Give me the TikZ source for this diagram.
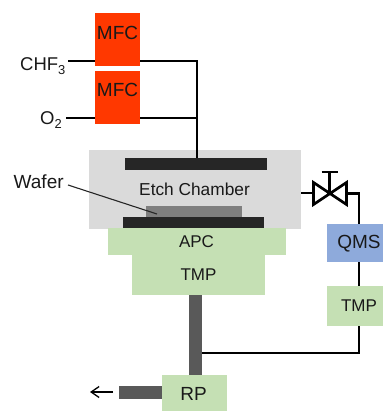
\documentclass[tikz,border=0pt]{standalone}
\usepackage{fontspec}
\usetikzlibrary{arrows.meta}
\setmainfont{Liberation Sans}
\definecolor{mfcred}{RGB}{255,56,0}
\definecolor{chambergray}{RGB}{218,218,218}
\definecolor{darkbar}{RGB}{38,38,38}
\definecolor{wafergray}{RGB}{127,127,127}
\definecolor{pumpgreen}{RGB}{197,224,180}
\definecolor{qmsblue}{RGB}{142,170,219}
\definecolor{pipegray}{RGB}{89,89,89}
\newcommand{\fs}[1]{\fontsize{#1}{#1}\selectfont}
\begin{document}
\begin{tikzpicture}[x=1pt,y=-1pt,
  gasline/.style={draw=black,line width=2.7pt},
  lab/.style={inner sep=0pt,text=black!90}]
\useasboundingbox (0,0) rectangle (383,411);
% fills
\fill[chambergray] (89,150) rectangle (301,229);
\fill[mfcred] (94.5,13) rectangle (140,66);
\fill[mfcred] (94.5,71) rectangle (140,124);
\fill[pumpgreen] (108,228) rectangle (286,255);
\fill[pumpgreen] (132,255) rectangle (265,295);
\fill[pumpgreen] (162,375) rectangle (227,411);
\fill[pumpgreen] (327,286) rectangle (383,326);
\fill[qmsblue] (327,224) rectangle (383,262);
\fill[darkbar] (125,158) rectangle (267,170);
\fill[wafergray] (146,206) rectangle (242,218);
\fill[darkbar] (123,217) rectangle (264,228);
\fill[pipegray] (189,295) rectangle (202,375);
\fill[pipegray] (119,386) rectangle (162,399);
% named anchors
\coordinate (chfin) at (68,61);
\coordinate (chfa) at (94.5,61);
\coordinate (chfb) at (140,61);
\coordinate (oin) at (66,118);
\coordinate (oa) at (94.5,118);
\coordinate (ob) at (140,118);
\coordinate (jo) at (197,118);
\coordinate (elec) at (197,158);
\coordinate (chout) at (301,193);
\coordinate (vl) at (313,193);
\coordinate (vr) at (347,193.5);
\coordinate (vc) at (329.5,193);
\coordinate (qmst) at (359,224);
\coordinate (qmsb) at (359,262);
\coordinate (tmpt) at (359,286);
\coordinate (tmpb) at (359,326);
\coordinate (pj) at (202,353);
% gas lines
\draw[gasline] (chfin) -- (chfa);
\draw[gasline] (chfb) -| (elec);
\draw[gasline] (oin) -- (oa);
\draw[gasline] (ob) -- (jo);
\draw[gasline] (chout) -- (vl);
\draw[gasline,line join=miter] (vr) -| (qmst);
\draw[gasline] (qmsb) -- (tmpt);
\draw[gasline] (tmpb) |- (pj);
% valve
\draw[gasline,line join=miter] (313.5,182.5) -- (346.5,204.5) -- (346.5,182.5) -- (313.5,204.5) -- cycle;
\draw[gasline] (vc) -- (329.5,172);
\draw[gasline] (321.5,172) -- (338,172);
% wafer leader and exhaust arrow
\coordinate (wl) at (68,185);
\coordinate (wt) at (157,214);
\draw[black!85,line width=1.1pt] (wl) -- (wt);
\coordinate (exa) at (113,392);
\coordinate (exb) at (90,392);
\draw[black,line width=1.3pt,-{Straight Barb[length=8pt,width=11pt]}] (exa) -- (exb);
% labels
\node[lab] (mfca) at (117.5,33) {\fs{19}MFC};
\node[lab] (mfcb) at (117.5,90) {\fs{19}MFC};
\node[lab,anchor=base west] (chf) at (20,71) {\fs{18.5}CHF\textsubscript{3}};
\node[lab,anchor=base west] (o) at (40,125) {\fs{18.5}O\textsubscript{2}};
\node[lab,anchor=base west] (waf) at (13.5,189) {\fs{19}Wafer};
\node[lab] (etch) at (194.5,189.5) {\fs{17.3}Etch Chamber};
\node[lab] (apc) at (196.5,242) {\fs{17}APC};
\node[lab] (tmpa) at (198.5,275) {\fs{17}TMP};
\node[lab] (qms) at (359,243.5) {\fs{19}QMS};
\node[lab] (tmpc) at (359,306) {\fs{17}TMP};
\node[lab] (rp) at (193.5,393.5) {\fs{19}RP};
\end{tikzpicture}
\end{document}
